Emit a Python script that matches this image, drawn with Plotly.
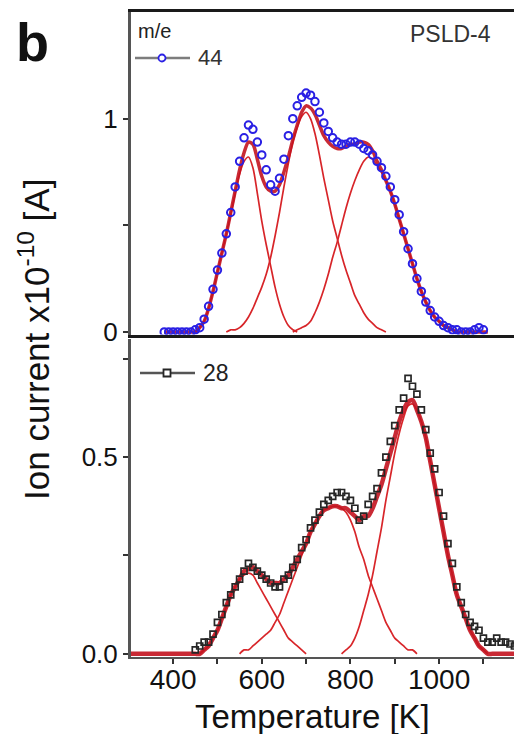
import plotly.graph_objects as go

# ---------------------------------------------------------------
# PSLD-4: temperature-programmed desorption, ion current vs T
# ---------------------------------------------------------------

# m/e 44 measured trace (top panel)
T44 = list(range(380, 1110, 10))
I44 = [
    0.00, 0.00, 0.00, 0.00, 0.00, 0.00, 0.00, 0.01, 0.02, 0.06,
    0.12, 0.20, 0.29, 0.37, 0.46, 0.56, 0.68, 0.80, 0.91, 0.97,
    0.95, 0.89, 0.83, 0.76, 0.69, 0.66, 0.72, 0.81, 0.92, 1.00,
    1.06, 1.10, 1.12, 1.11, 1.08, 1.03, 0.98, 0.94, 0.91, 0.89,
    0.88, 0.88, 0.89, 0.89, 0.88, 0.86, 0.85, 0.83, 0.80, 0.77,
    0.73, 0.68, 0.62, 0.55, 0.47, 0.39, 0.32, 0.25, 0.19, 0.14,
    0.10, 0.07, 0.05, 0.03, 0.02, 0.01, 0.01, 0.00, 0.00, 0.00,
    0.01, 0.02, 0.01,
]

# m/e 44 fitted desorption peaks
T44_P1 = list(range(450, 690, 10))
P44_1 = [
    0.00, 0.02, 0.05, 0.11, 0.19, 0.28, 0.37, 0.46, 0.55, 0.65,
    0.74, 0.80, 0.82, 0.77, 0.65, 0.52, 0.41, 0.31, 0.21, 0.13,
    0.07, 0.03, 0.01, 0.00,
]
T44_P2 = list(range(520, 890, 10))
P44_2 = [
    0.00, 0.01, 0.01, 0.02, 0.04, 0.07, 0.11, 0.16, 0.21, 0.27,
    0.35, 0.45, 0.56, 0.68, 0.79, 0.89, 0.96, 1.01, 1.03, 1.00,
    0.93, 0.83, 0.72, 0.62, 0.52, 0.44, 0.36, 0.29, 0.23, 0.17,
    0.13, 0.09, 0.06, 0.04, 0.02, 0.01, 0.00,
]
T44_P3 = list(range(670, 1050, 10))
P44_3 = [
    0.00, 0.01, 0.02, 0.03, 0.05, 0.09, 0.14, 0.20, 0.27, 0.35,
    0.42, 0.50, 0.58, 0.65, 0.71, 0.76, 0.80, 0.82, 0.81, 0.78,
    0.75, 0.71, 0.66, 0.60, 0.53, 0.46, 0.39, 0.32, 0.25, 0.19,
    0.14, 0.10, 0.07, 0.05, 0.03, 0.02, 0.01, 0.00,
]
T44_FIT = list(range(380, 1120, 10))

# m/e 28 measured trace (bottom panel)
T28 = list(range(450, 1180, 10))
I28 = [
    0.01, 0.02, 0.03, 0.03, 0.05, 0.08, 0.10, 0.13, 0.15, 0.17,
    0.19, 0.21, 0.23, 0.22, 0.21, 0.20, 0.19, 0.18, 0.17, 0.17,
    0.19, 0.20, 0.22, 0.24, 0.27, 0.29, 0.32, 0.34, 0.36, 0.38,
    0.39, 0.40, 0.41, 0.41, 0.40, 0.39, 0.37, 0.34, 0.35, 0.38,
    0.40, 0.42, 0.46, 0.50, 0.54, 0.58, 0.62, 0.65, 0.70, 0.68,
    0.66, 0.62, 0.57, 0.51, 0.47, 0.41, 0.35, 0.28, 0.23, 0.17,
    0.13, 0.10, 0.08, 0.07, 0.06, 0.04, 0.03, 0.03, 0.04, 0.03,
    0.03, 0.025, 0.02,
]

# m/e 28 fitted desorption peaks
T28_P1 = list(range(460, 710, 10))
P28_1 = [
    0.00, 0.01, 0.02, 0.04, 0.06, 0.09, 0.12, 0.15, 0.17, 0.19,
    0.20, 0.205, 0.20, 0.18, 0.16, 0.14, 0.12, 0.10, 0.08, 0.06,
    0.04, 0.03, 0.02, 0.01, 0.00,
]
T28_P2 = list(range(550, 960, 10))
P28_2 = [
    0.00, 0.01, 0.01, 0.02, 0.03, 0.04, 0.05, 0.06, 0.08, 0.10,
    0.13, 0.16, 0.19, 0.22, 0.25, 0.28, 0.31, 0.33, 0.35, 0.365,
    0.37, 0.375, 0.375, 0.37, 0.36, 0.34, 0.31, 0.27, 0.24, 0.20,
    0.17, 0.14, 0.11, 0.08, 0.06, 0.04, 0.03, 0.02, 0.01, 0.01,
    0.00,
]
T28_P3 = list(range(780, 1120, 10))
P28_3 = [
    0.00, 0.01, 0.02, 0.04, 0.07, 0.11, 0.15, 0.20, 0.26, 0.32,
    0.39, 0.45, 0.51, 0.56, 0.60, 0.63, 0.635, 0.62, 0.59, 0.55,
    0.49, 0.43, 0.37, 0.31, 0.25, 0.20, 0.15, 0.12, 0.09, 0.06,
    0.04, 0.02, 0.01, 0.00,
]
T28_FIT = list(range(300, 1190, 10))

X_TICKS = [400, 500, 600, 700, 800, 900, 1000, 1100]
X_TICK_TEXT = ["400", "", "600", "", "800", "", "1000", ""]
Y44_TICKS = [0, 0.5, 1]
Y44_TICK_TEXT = ["0", "", "1"]
Y28_TICKS = [0, 0.25, 0.5, 0.75]
Y28_TICK_TEXT = ["0.0", "", "0.5", ""]

FONT = "Liberation Sans, Arial, sans-serif"
BLUE = "#2a20e4"
DARK = "#262626"
RED_THIN = "#d8262a"
RED_SUM = "#c41420"

# page geometry (px): plot area starts at L, T and spans W x H
W_FIG, H_FIG = 514, 734
L, R, T, B = 131, 0, 12, 77
W = W_FIG - L - R
H = H_FIG - T - B


def px_x(p):
    return (p - L) / W


def px_y(p):
    return 1 - (p - T) / H


def envelope(grid, peaks):
    """Sum of the fitted peaks on a common temperature grid."""
    total = {t: 0.0 for t in grid}
    for ts, vs in peaks:
        for t, v in zip(ts, vs):
            total[t] += v
    return [total[t] for t in grid]


S44 = envelope(T44_FIT, [(T44_P1, P44_1), (T44_P2, P44_2), (T44_P3, P44_3)])
S28 = envelope(T28_FIT, [(T28_P1, P28_1), (T28_P2, P28_2), (T28_P3, P28_3)])

fig = go.Figure()


def add_fits(peaks, grid, total, xa, ya, sum_width):
    for ts, vs in peaks:
        fig.add_trace(go.Scatter(
            x=ts, y=vs, mode="lines", showlegend=False, hoverinfo="skip",
            line=dict(color=RED_THIN, width=1.7, shape="spline", smoothing=0.8),
            xaxis=xa, yaxis=ya,
        ))
    fig.add_trace(go.Scatter(
        x=grid, y=total, mode="lines", showlegend=False, hoverinfo="skip",
        line=dict(color=RED_SUM, width=sum_width, shape="spline", smoothing=0.8),
        opacity=0.9, xaxis=xa, yaxis=ya,
    ))


# --- top panel: m/e 44 ---
add_fits([(T44_P1, P44_1), (T44_P2, P44_2), (T44_P3, P44_3)],
         T44_FIT, S44, "x", "y", 3.5)
fig.add_trace(go.Scatter(
    x=T44, y=I44, name="44", mode="markers", showlegend=False,
    marker=dict(symbol="circle-open", size=7.5, color=BLUE, line=dict(width=2)),
    xaxis="x", yaxis="y",
))

# --- bottom panel: m/e 28 ---
add_fits([(T28_P1, P28_1), (T28_P2, P28_2), (T28_P3, P28_3)],
         T28_FIT, S28, "x2", "y2", 4.5)
fig.add_trace(go.Scatter(
    x=T28, y=I28, name="28", mode="markers", showlegend=False,
    marker=dict(symbol="square-open", size=6, color=DARK, line=dict(width=1.7)),
    xaxis="x2", yaxis="y2",
))


# legend keys drawn as line + symbol, in page pixels
def legend_key(x0, x1, yc, xm, symbol, color, line_color):
    shapes = [dict(type="line", xref="paper", yref="paper",
                   x0=px_x(x0), x1=px_x(x1), y0=px_y(yc), y1=px_y(yc),
                   line=dict(color=line_color, width=2.5))]
    shapes.append(dict(type=symbol, xref="paper", yref="paper",
                       xsizemode="pixel", ysizemode="pixel",
                       xanchor=px_x(xm), yanchor=px_y(yc),
                       x0=-3.5, x1=3.5, y0=-3.5, y1=3.5,
                       fillcolor="white", line=dict(color=color, width=1.8)))
    return shapes


shapes = legend_key(135, 190, 58, 162, "circle", BLUE, "#7d7d7d")
shapes += legend_key(140, 195, 373, 167, "rect", DARK, "#555555")

common_y = dict(
    ticks="outside", ticklen=5, tickwidth=2, tickcolor="#333333",
    showline=True, linecolor="#555555", linewidth=3,
    showgrid=False, zeroline=False, automargin=False,
    tickfont=dict(family=FONT, size=26, color="#111111"),
)

fig.update_layout(
    width=W_FIG, height=H_FIG,
    margin=dict(l=L, r=R, t=T, b=B),
    paper_bgcolor="white", plot_bgcolor="white",
    font=dict(family=FONT, color="#111111"),
    showlegend=False,
    xaxis=dict(
        domain=[0, 1], range=[305, 1169], anchor="y",
        showline=True, mirror=True, linecolor="#1a1a1a", linewidth=3,
        showticklabels=False, ticks="", showgrid=False, zeroline=False,
        layer="below traces", automargin=False,
    ),
    yaxis=dict(domain=[0.5, 1], range=[-0.012, 1.5], anchor="x",
               tickvals=Y44_TICKS, ticktext=Y44_TICK_TEXT, **common_y),
    xaxis2=dict(
        domain=[0, 1], range=[305, 1169], anchor="y2",
        tickvals=X_TICKS, ticktext=X_TICK_TEXT,
        ticks="outside", ticklen=5, tickwidth=2, tickcolor="#333333",
        ticklabelstandoff=-9,
        showline=True, linecolor="#555555", linewidth=2,
        showgrid=False, zeroline=False, layer="below traces",
        tickfont=dict(family=FONT, size=28, color="#111111"),
        automargin=False,
    ),
    yaxis2=dict(domain=[0, 0.493], range=[-0.008, 0.8], anchor="x2",
                tickvals=Y28_TICKS, ticktext=Y28_TICK_TEXT, **common_y),
    shapes=shapes,
    annotations=[
        dict(text="<b>b</b>", xref="paper", yref="paper", x=px_x(32), y=px_y(42),
             xanchor="center", yanchor="middle", showarrow=False,
             font=dict(family=FONT, size=54, color="#111111")),
        dict(text="PSLD-4", xref="paper", yref="paper", x=px_x(450), y=px_y(34),
             xanchor="center", yanchor="middle", showarrow=False,
             font=dict(family=FONT, size=23, color="#333333")),
        dict(text="m/e", xref="paper", yref="paper", x=px_x(136), y=px_y(31),
             xanchor="left", yanchor="middle", showarrow=False,
             font=dict(family=FONT, size=20, color="#222222")),
        dict(text="44", xref="paper", yref="paper", x=px_x(196), y=px_y(58),
             xanchor="left", yanchor="middle", showarrow=False,
             font=dict(family=FONT, size=22, color="#333333")),
        dict(text="28", xref="paper", yref="paper", x=px_x(201), y=px_y(373),
             xanchor="left", yanchor="middle", showarrow=False,
             font=dict(family=FONT, size=23, color="#222222")),
        dict(text="Ion current x10<sup>-10</sup> [A]", xref="paper", yref="paper",
             x=px_x(34), y=px_y(340), xanchor="center", yanchor="middle",
             textangle=-90, showarrow=False,
             font=dict(family=FONT, size=35, color="#111111")),
        dict(text="Temperature [K]", xref="paper", yref="paper",
             x=px_x(312), y=px_y(716), xanchor="center", yanchor="middle",
             showarrow=False, font=dict(family=FONT, size=33, color="#111111")),
    ],
)

fig.write_html("out.html")
